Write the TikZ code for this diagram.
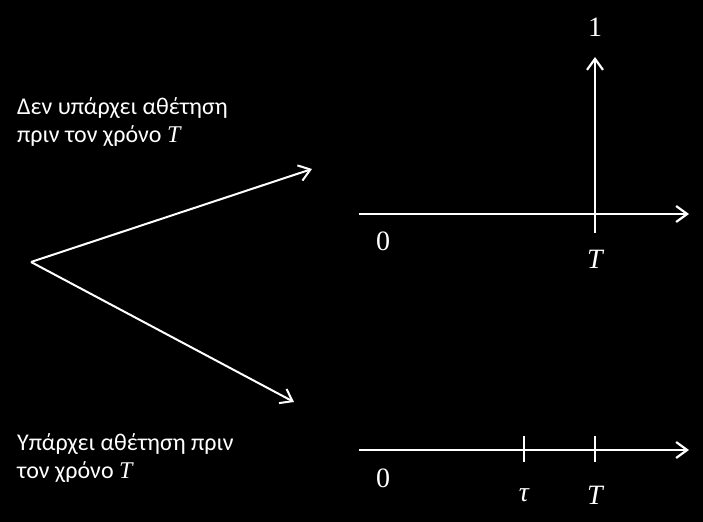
\documentclass[tikz,border=0pt]{standalone}
\usepackage{fontspec}
\setmainfont{Carlito}
\newfontfamily\labfont{Liberation Serif}
\newcommand{\mvar}[1]{{\labfont\itshape #1}}
\usetikzlibrary{arrows.meta}
\tikzset{
  axis/.style={white, line width=2.6bp, -{Straight Barb[length=11bp,width=16bp,line width=2.2bp]}},
  branch/.style={white, line width=2bp, -{Straight Barb[length=11bp,width=16bp,line width=2bp]}},
  tickline/.style={white, line width=2.6bp},
  lbl/.style={text=white, inner sep=0pt, font=\fontsize{24bp}{28bp}\selectfont},
  mlbl/.style={text=white, inner sep=0pt, font=\labfont\fontsize{28bp}{30bp}\selectfont},
}
\begin{document}
\begin{tikzpicture}[x=1bp,y=-1bp]
\fill[black] (0,0) rectangle (703,522);
\useasboundingbox (0,0) rectangle (703,522);
% left branching arrows
\coordinate (src) at (31,262);
\coordinate (up) at (312,169);
\coordinate (down) at (294,402);
\draw[branch] (src) -- (up);
\draw[branch] (src) -- (down);
% texts (base anchor = baseline of last line)
\node[lbl, anchor=base west, align=left] (t1) at (17,143) {Δεν υπάρχει αθέτηση\\πριν τον χρόνο \mvar{T}};
\node[lbl, anchor=base west, align=left] (t2) at (17,478) {Υπάρχει αθέτηση πριν\\τον χρόνο \mvar{T}};
% top axis
\coordinate (a0) at (359,214);
\coordinate (a1) at (689,214);
\draw[axis] (a0) -- (a1);
\coordinate (sb) at (595,233);
\coordinate (st) at (595,57);
\draw[axis] (sb) -- (st);
\node[mlbl] (one) at (595,27) {1};
\node[mlbl] (z1) at (383,241) {0};
\node[mlbl] (T1) at (595,259) {\mvar{T}};
% bottom axis
\coordinate (b0) at (359,450);
\coordinate (b1) at (689,450);
\draw[axis] (b0) -- (b1);
\coordinate (k1a) at (524,436);
\coordinate (k1b) at (524,462);
\coordinate (k2a) at (595,436);
\coordinate (k2b) at (595,462);
\draw[tickline] (k1a) -- (k1b);
\draw[tickline] (k2a) -- (k2b);
\node[mlbl] (z2) at (383,478) {0};
\node[mlbl] (tau) at (524,495) {\mvar{τ}};
\node[mlbl] (T2) at (595,495) {\mvar{T}};
\end{tikzpicture}
\end{document}
